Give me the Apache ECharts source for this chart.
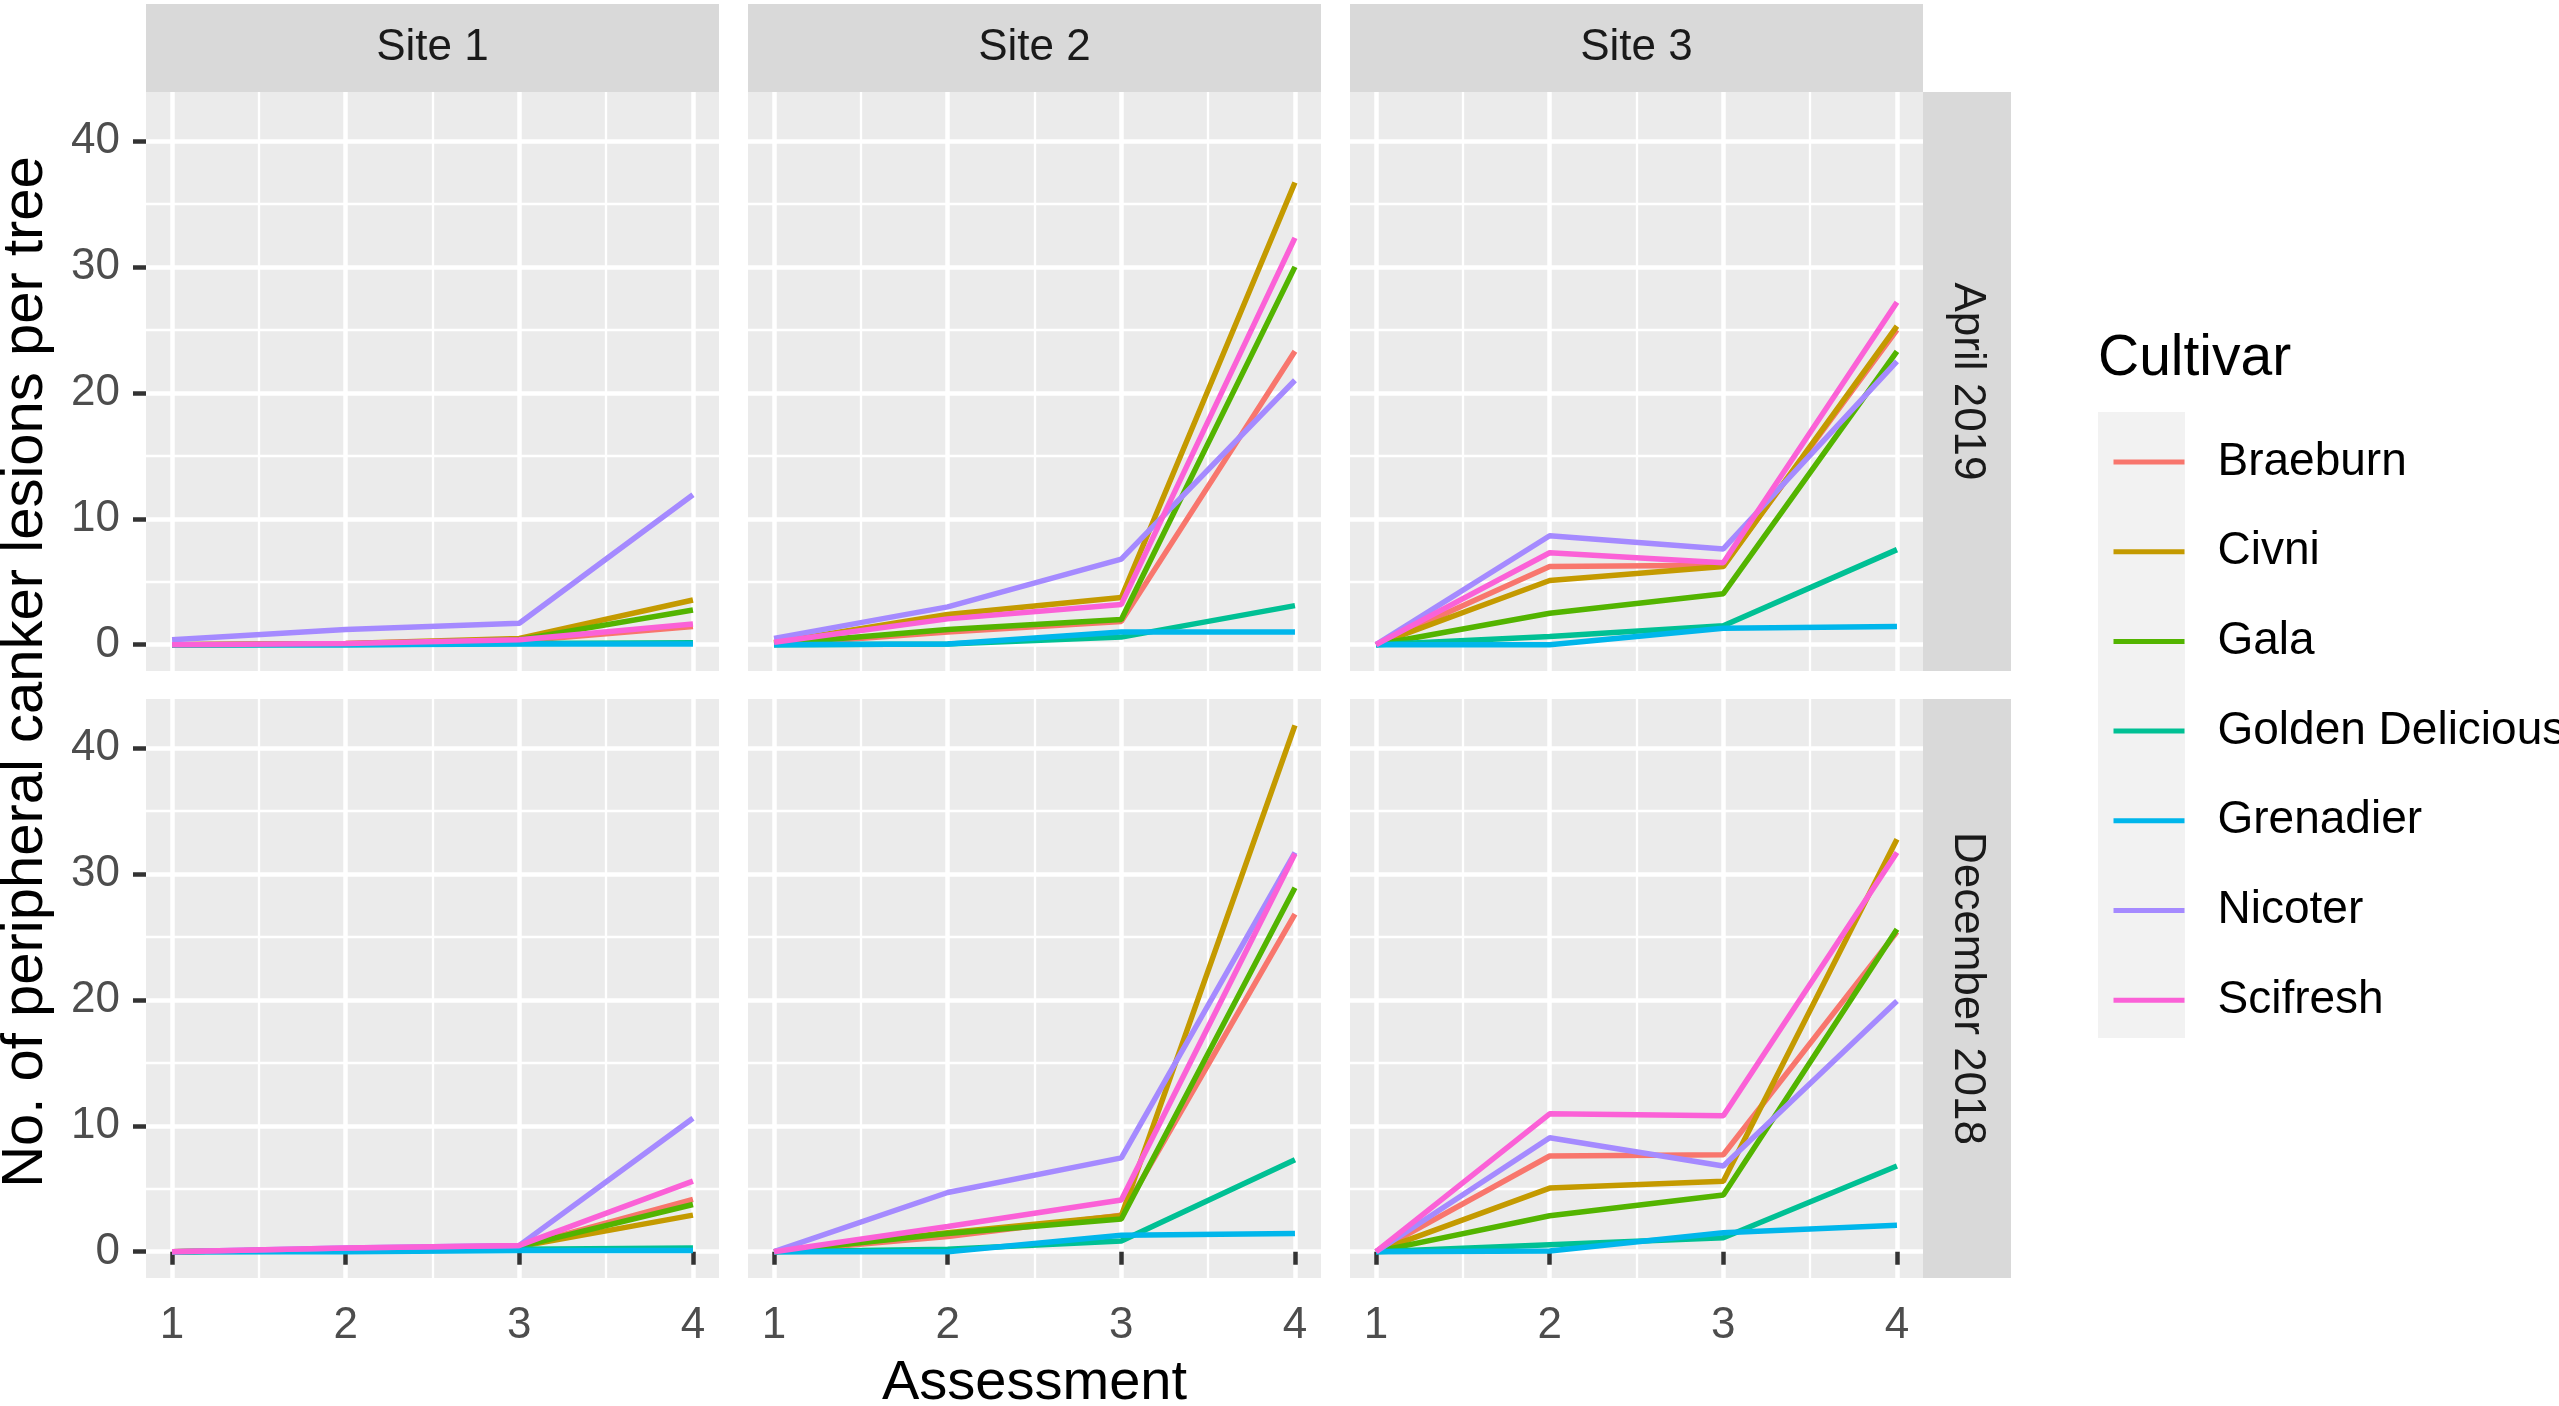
<!DOCTYPE html>
<html lang="en">
<head>
<meta charset="utf-8" />
<title>Peripheral canker lesions per tree</title>
<style>
  html, body { margin: 0; padding: 0; background: #ffffff; }
  #main { width: 2559px; height: 1406px; }
</style>
</head>
<body>
<div id="main"></div>
<script src="https://cdn.jsdelivr.net/npm/echarts@6/dist/echarts.min.js"></script>
<script>
const cultivars = ['Braeburn', 'Civni', 'Gala', 'Golden Delicious', 'Grenadier', 'Nicoter', 'Scifresh'];
const colors = ['#F8766D', '#C49A00', '#53B400', '#00C094', '#00B6EB', '#A58AFF', '#FB61D7'];
const sites = ['Site 1', 'Site 2', 'Site 3'];
const periods = ['April 2019', 'December 2018'];
const assessments = [1, 2, 3, 4];
const xMinor = [1.5, 2.5, 3.5];
const yTicks = [0, 10, 20, 30, 40];
const yMinor = [5, 15, 25, 35];

// one row per cultivar (same order as cultivars), one value per assessment
const apr2019Site1 = [
  [0, 0.05, 0.3, 1.45],
  [0, 0.1, 0.5, 3.55],
  [0, 0.05, 0.4, 2.75],
  [0, 0, 0.1, 0.15],
  [0, 0, 0.05, 0.05],
  [0.4, 1.2, 1.7, 11.9],
  [0, 0.1, 0.4, 1.65]
];
const apr2019Site2 = [
  [0, 1.0, 1.85, 23.3],
  [0.15, 2.4, 3.75, 36.7],
  [0.05, 1.2, 2.0, 30.0],
  [0, 0.05, 0.6, 3.1],
  [0, 0.05, 1.0, 1.0],
  [0.5, 3.0, 6.8, 21.0],
  [0.2, 2.05, 3.2, 32.3]
];
const apr2019Site3 = [
  [0, 6.2, 6.3, 25.0],
  [0, 5.1, 6.2, 25.3],
  [0, 2.5, 4.05, 23.3],
  [0, 0.65, 1.5, 7.55],
  [0, 0, 1.3, 1.45],
  [0, 8.65, 7.6, 22.5],
  [0, 7.3, 6.5, 27.2]
];
const dec2018Site1 = [
  [0, 0.2, 0.4, 4.15],
  [0, 0.2, 0.4, 2.9],
  [0, 0.2, 0.4, 3.75],
  [0, 0.05, 0.2, 0.3],
  [0, 0, 0.1, 0.1],
  [0, 0.3, 0.5, 10.6],
  [0, 0.3, 0.5, 5.6]
];
const dec2018Site2 = [
  [0, 1.2, 2.9, 26.8],
  [0, 1.5, 2.85, 41.8],
  [0, 1.45, 2.6, 28.9],
  [0, 0.2, 0.85, 7.3],
  [0, 0, 1.3, 1.45],
  [0, 4.7, 7.45, 31.7],
  [0, 2.0, 4.1, 31.6]
];
const dec2018Site3 = [
  [0, 7.6, 7.7, 25.4],
  [0, 5.05, 5.6, 32.75],
  [0, 2.85, 4.5, 25.6],
  [0, 0.55, 1.1, 6.8],
  [0, 0.05, 1.5, 2.1],
  [0, 9.05, 6.8, 19.9],
  [0, 10.95, 10.8, 31.7]
];

const panels = [
  [apr2019Site1, apr2019Site2, apr2019Site3],
  [dec2018Site1, dec2018Site2, dec2018Site3]
];

// layout (px)
const font = "'Liberation Sans', Arial, sans-serif";
const colX = [146, 748, 1350];
const rowY = [92, 699];
const panelW = 573;
const panelH = 579;
const stripH = 88;
const xMin = 0.85, xMax = 4.15;
const yMin = -2.09, yMax = 43.89;

const grids = [], xAxes = [], yAxes = [], series = [];
const graphics = [];

periods.forEach((period, r) => {
  sites.forEach((site, c) => {
    const p = grids.length;
    grids.push({
      left: colX[c], top: rowY[r], width: panelW, height: panelH,
      show: true, backgroundColor: '#EBEBEB', borderWidth: 0
    });
    // major x
    xAxes.push({
      type: 'value', gridIndex: p, min: xMin, max: xMax,
      axisLine: { show: false },
      axisTick: { show: r === 1, customValues: assessments, length: 13, lineStyle: { color: '#333333', width: 4.5 } },
      axisLabel: { show: r === 1, customValues: assessments, margin: 26, fontSize: 44, color: '#4D4D4D', fontFamily: font },
      splitLine: { show: true, lineStyle: { color: '#ffffff', width: 4.5 } }
    });
    // minor x
    xAxes.push({
      type: 'value', gridIndex: p, min: xMin, max: xMax,
      axisLine: { show: false },
      axisTick: { show: false, customValues: xMinor },
      axisLabel: { show: false, customValues: xMinor },
      splitLine: { show: true, lineStyle: { color: '#ffffff', width: 2.3 } }
    });
    yAxes.push({
      type: 'value', gridIndex: p, min: yMin, max: yMax, position: 'left',
      axisLine: { show: false },
      axisTick: { show: c === 0, customValues: yTicks, length: 13, lineStyle: { color: '#333333', width: 4.5 } },
      axisLabel: { show: c === 0, customValues: yTicks, margin: 26, fontSize: 44, color: '#4D4D4D', fontFamily: font },
      splitLine: { show: true, lineStyle: { color: '#ffffff', width: 4.5 } }
    });
    yAxes.push({
      type: 'value', gridIndex: p, min: yMin, max: yMax, position: 'left',
      axisLine: { show: false },
      axisTick: { show: false, customValues: yMinor },
      axisLabel: { show: false, customValues: yMinor },
      splitLine: { show: true, lineStyle: { color: '#ffffff', width: 2.3 } }
    });

    const vals = panels[r][c];
    cultivars.forEach((name, k) => {
      series.push({
        type: 'line', name: name,
        xAxisIndex: 2 * p, yAxisIndex: 2 * p,
        data: assessments.map((a, i) => [a, vals[k][i]]),
        symbol: 'none', silent: true,
        lineStyle: { width: 5.5, color: colors[k] },
        itemStyle: { color: colors[k] }
      });
    });
  });
});

// facet strips
sites.forEach((site, c) => {
  graphics.push({ type: 'rect', shape: { x: colX[c], y: rowY[0] - stripH, width: panelW, height: stripH }, style: { fill: '#D9D9D9' } });
  graphics.push({
    type: 'text', x: colX[c] + panelW / 2, y: rowY[0] - stripH / 2,
    style: { text: site, font: '44px ' + font, fill: '#1A1A1A', textAlign: 'center', textVerticalAlign: 'middle', align: 'center', verticalAlign: 'middle' }
  });
});
const stripX = colX[2] + panelW;
periods.forEach((period, r) => {
  graphics.push({ type: 'rect', shape: { x: stripX, y: rowY[r], width: stripH, height: panelH }, style: { fill: '#D9D9D9' } });
  graphics.push({
    type: 'text', x: stripX + stripH / 2, y: rowY[r] + panelH / 2, rotation: -Math.PI / 2,
    style: { text: period, font: '44px ' + font, fill: '#1A1A1A', textAlign: 'center', textVerticalAlign: 'middle', align: 'center', verticalAlign: 'middle' }
  });
});

// axis titles
graphics.push({
  type: 'text', x: (colX[0] + stripX) / 2, y: 1384,
  style: { text: 'Assessment', font: '56px ' + font, fill: '#000000', textAlign: 'center', textVerticalAlign: 'middle', align: 'center', verticalAlign: 'middle' }
});
graphics.push({
  type: 'text', x: 26, y: 672, rotation: Math.PI / 2,
  style: { text: 'No. of peripheral canker lesions per tree', font: '58px ' + font, fill: '#000000', textAlign: 'center', textVerticalAlign: 'middle', align: 'center', verticalAlign: 'middle' }
});

// legend title and key background
graphics.push({
  type: 'text', x: 2098, y: 359,
  style: { text: 'Cultivar', font: '57px ' + font, fill: '#000000', textAlign: 'left', textVerticalAlign: 'middle', align: 'left', verticalAlign: 'middle' }
});
graphics.push({ type: 'rect', z: -1, shape: { x: 2098, y: 412, width: 87, height: 626 }, style: { fill: '#F2F2F2' } });

const chart = echarts.init(document.getElementById('main'));
chart.setOption({
  animation: false,
  backgroundColor: '#ffffff',
  grid: grids,
  xAxis: xAxes,
  yAxis: yAxes,
  series: series,
  legend: {
    data: cultivars,
    orient: 'vertical',
    left: 2106, top: 432,
    itemWidth: 71, itemHeight: 2, itemGap: 39.7,
    selectedMode: false,
    itemStyle: { opacity: 0 },
    lineStyle: { width: 5 },
    textStyle: { fontSize: 46, color: '#000000', fontFamily: font, lineHeight: 50, padding: [0, 0, 0, 28] }
  },
  graphic: graphics
});
</script>
</body>
</html>
